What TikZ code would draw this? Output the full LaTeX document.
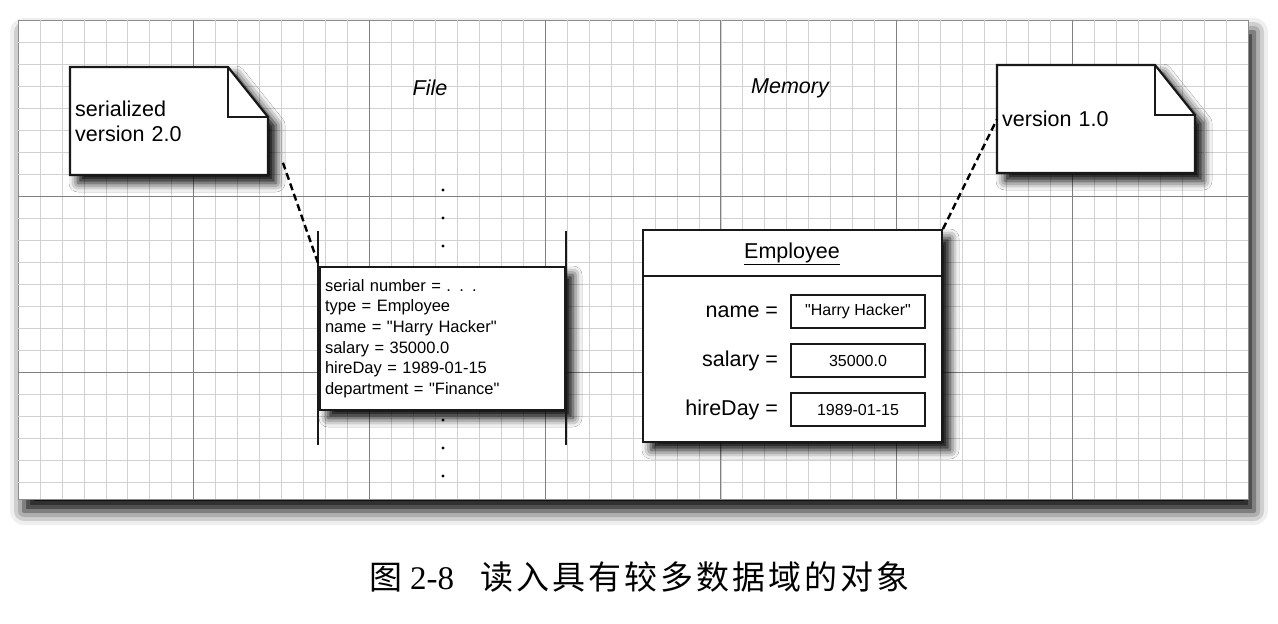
\documentclass[tikz,border=0pt]{standalone}
\usepackage{fontspec}
\setmainfont{Liberation Sans}[Ligatures=TeXOff]
\newfontfamily\cjk{Noto Sans CJK SC}
\newfontfamily\capserif{Liberation Serif}
\usetikzlibrary{calc,positioning,shadows.blur}
\newcommand\notefont{\fontsize{21.5}{24.5}\selectfont}
\newcommand\recfont{\fontsize{16.5}{20.6}\selectfont}
\newcommand\valfont{\fontsize{16}{18}\selectfont}
\newcommand\capfont{\fontsize{33}{36}\selectfont}
\tikzset{
   paper/.style={draw=black!45, fill=white, line width=0.8pt,
                 blur shadow={shadow xshift=6pt, shadow yshift=-12pt, shadow blur radius=14pt, shadow opacity=100}},
   minorline/.style={draw=black!18, line width=0.7pt},
   majorline/.style={draw=black!50, line width=0.9pt},
   note/.style={text width=188pt, align=left, minimum height=108pt, inner xsep=5pt, inner ysep=0pt, font=\notefont},
   dogear/.style={draw=black!90, fill=white, line width=2.2pt, line join=miter,
                 blur shadow={shadow xshift=8pt, shadow yshift=-8pt, shadow blur radius=9pt, shadow opacity=100}},
   fold/.style={draw=black!90, line width=2.2pt},
   recbox/.style={draw=black!90, fill=white, line width=1.8pt, text width=235pt, align=left,
                 minimum height=143pt, inner xsep=5pt, font=\recfont,
                 blur shadow={shadow xshift=8pt, shadow yshift=-8pt, shadow blur radius=9pt, shadow opacity=100}},
   empbox/.style={draw=black!90, fill=white, line width=1.8pt, minimum width=299pt, minimum height=212pt,
                 blur shadow={shadow xshift=8pt, shadow yshift=-8pt, shadow blur radius=9pt, shadow opacity=100}},
   field/.style={draw=black!90, line width=1.6pt, minimum width=134pt, minimum height=33pt, inner sep=0pt, font=\valfont},
   fieldlab/.style={inner sep=0pt, font=\notefont},
   heading/.style={font=\notefont\itshape},
   link/.style={line width=2.4pt, dash pattern=on 7pt off 4pt},
   bar/.style={line width=1.8pt, draw=black!90}
}

\begin{document}
\begin{tikzpicture}[x=1pt,y=-1pt]
\useasboundingbox (0,0) rectangle (1278,624);

% grid paper
\path[paper] (18,20) rectangle (1248,499);
\foreach \i in {1,...,55}
  \draw[minorline] ({18+\i*21.964},20) -- ({18+\i*21.964},499);
\foreach \j in {1,...,21}
  \draw[minorline] (18,{20+\j*22}) -- (1248,{20+\j*22});
\foreach \k in {1,...,6}
  \draw[majorline] ({18+\k*175.71},20) -- ({18+\k*175.71},499);
\foreach \k in {1,2}
  \draw[majorline] (18,{20+\k*176}) -- (1248,{20+\k*176});

\node[heading] (file) at (430,88) {File};
\node[heading] (mem) at (790,88) {Memory};

% notes with folded corner
\foreach \x/\y in {70/67, 997/65}{
  \path[dogear] (\x,\y) -- ++(158,0) -- ++(40,50) -- ++(0,58) -- ++(-198,0) -- cycle;
  \draw[fold] ({\x+158},\y) -- ++(0,50) -- ++(40,0);
}
\node[note, anchor=north west] (old) at (70,67) {serialized\\version 2.0};
\node[note, anchor=north west] (cur) at (997,65) {version 1.0};

% record in the file
\node[recbox] (rec) at (442.5,338.5) {serial number = . . .\\type = Employee\\name = "Harry Hacker"\\salary = 35000.0\\hireDay = 1989-01-15\\department = "Finance"};
\draw[bar] ($(rec.north west)+(-1,-35)$) -- ($(rec.south west)+(-1,34)$);
\draw[bar] ($(rec.north east)+(0,-35)$) -- ($(rec.south east)+(0,34)$);
\foreach \y in {190,218,246,420,448,476}
  \fill (443,\y) circle (1.7);

% object in memory
\node[empbox] (emp) at (792.5,336) {};
\node[font=\notefont] (title) at (792,254) {\underline{Employee}};
\draw[line width=1.8pt, draw=black!90] ($(emp.north west)+(0,47)$) -- ($(emp.north east)+(0,47)$);
\foreach \lab/\val/\y [count=\i] in {name/{"Harry Hacker"}/311.5, salary/35000.0/360.5, hireDay/1989-01-15/409.5}{
  \node[field] (f\i) at (858,\y) {\val};
  \node[fieldlab, left=12pt of f\i] (l\i) {\lab\ =};
}

% links
\draw[link, shorten <=44pt] (old.east) -- (rec.north west);
\draw[link] (emp.north east) -- (cur.west);

% caption
\node[anchor=west, inner sep=0pt, font=\capfont] (cap) at (369,577)
  {{\cjk 图}\hspace{8pt}{\capserif 2-8}\hspace{26pt}{\cjk 读\kern3pt 入\kern3pt 具\kern3pt 有\kern3pt 较\kern3pt 多\kern3pt 数\kern3pt 据\kern3pt 域\kern3pt 的\kern3pt 对\kern3pt 象}};
\end{tikzpicture}
\end{document}
